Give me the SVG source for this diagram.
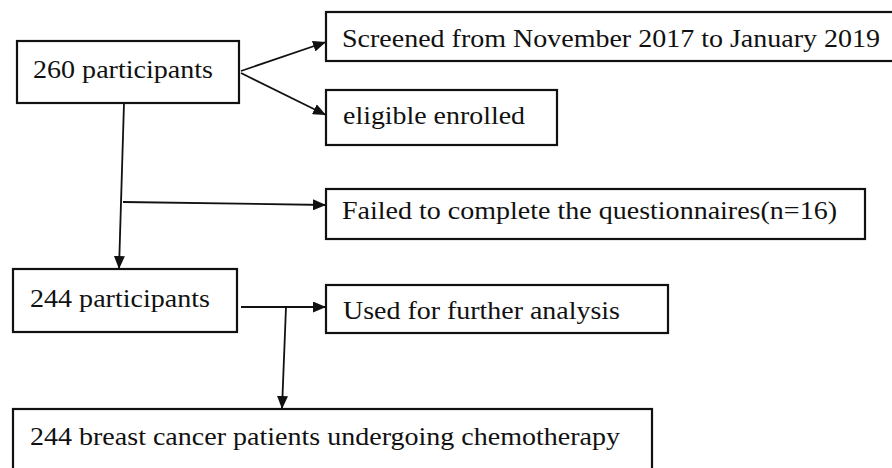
<svg xmlns="http://www.w3.org/2000/svg" width="892" height="468" viewBox="0 0 892 468">
<defs>
<marker id="ah" markerUnits="userSpaceOnUse" markerWidth="13" markerHeight="11" refX="13" refY="5.5" orient="auto">
<path d="M0,0 L13,5.5 L0,11 Z" fill="#111"/>
</marker>
<style>
.box{fill:#fff;stroke:#111;stroke-width:2.2}
.c{fill:none;stroke:#111;stroke-width:1.8}
</style>
</defs>
<rect width="892" height="468" fill="#fff"/>
<g font-family="'Liberation Serif', 'DejaVu Serif', serif" font-size="26" fill="#111">
<g id="n260">
<rect class="box" x="17" y="41" width="222" height="62"/>
<text x="33" y="78" textLength="180" lengthAdjust="spacingAndGlyphs">260 participants</text>
</g>
<g id="screened">
<rect class="box" x="326" y="12" width="570" height="49"/>
<text x="342" y="47" textLength="538" lengthAdjust="spacingAndGlyphs">Screened from November 2017 to January 2019</text>
</g>
<g id="eligible">
<rect class="box" x="326" y="90" width="231" height="55"/>
<text x="343" y="124" textLength="182" lengthAdjust="spacingAndGlyphs">eligible enrolled</text>
</g>
<g id="failed">
<rect class="box" x="326" y="189" width="539" height="50"/>
<text x="342" y="219" textLength="495" lengthAdjust="spacingAndGlyphs">Failed to complete the questionnaires(n=16)</text>
</g>
<g id="n244">
<rect class="box" x="13" y="269" width="224" height="63"/>
<text x="30" y="307" textLength="180" lengthAdjust="spacingAndGlyphs">244 participants</text>
</g>
<g id="used">
<rect class="box" x="326" y="285" width="342" height="48"/>
<text x="343" y="319" textLength="277" lengthAdjust="spacingAndGlyphs">Used for further analysis</text>
</g>
<g id="bcp">
<rect class="box" x="13" y="409" width="639" height="70"/>
<text x="30" y="445" textLength="590" lengthAdjust="spacingAndGlyphs">244 breast cancer patients undergoing chemotherapy</text>
</g>
</g>
<g id="connectors">
<line class="c" x1="241" y1="71" x2="326" y2="42" marker-end="url(#ah)"/>
<line class="c" x1="241" y1="73" x2="326" y2="115" marker-end="url(#ah)"/>
<line class="c" x1="124" y1="103" x2="119" y2="269" marker-end="url(#ah)"/>
<line class="c" x1="123" y1="202" x2="326" y2="205" marker-end="url(#ah)"/>
<line class="c" x1="241" y1="307" x2="326" y2="307" marker-end="url(#ah)"/>
<line class="c" x1="286" y1="307" x2="282" y2="409" marker-end="url(#ah)"/>
</g>
</svg>
